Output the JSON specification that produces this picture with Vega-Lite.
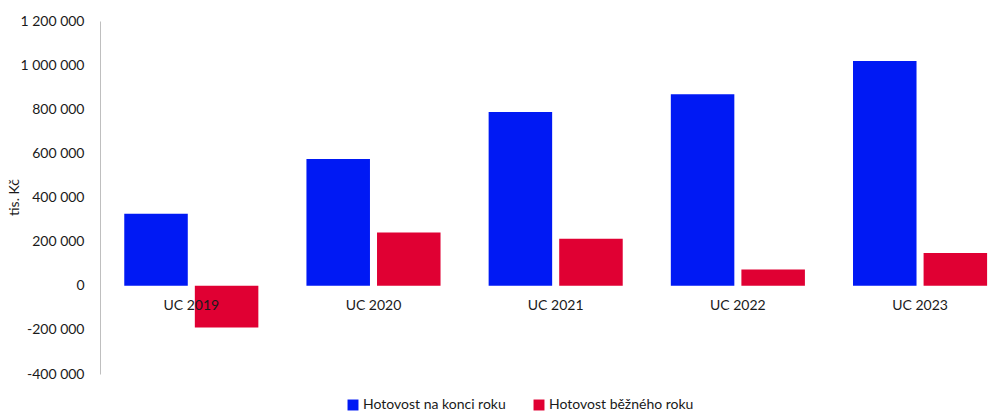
{
  "$schema": "https://vega.github.io/schema/vega-lite/v6.json",
  "width": 898,
  "height": 353,
  "autosize": {"type": "none"},
  "padding": {"left": 100, "top": 21, "right": 0, "bottom": 38},
  "config": {
    "locale": {"number": {"decimal": ",", "thousands": " ", "grouping": [3], "currency": ["", " Kč"], "minus": "-"}},
    "view": {"stroke": null},
    "font": "Lato"
  },
  "data": {
    "values": [
      {"cat": "UC 2019", "series": "Hotovost na konci roku", "value": 326000},
      {"cat": "UC 2019", "series": "Hotovost běžného roku", "value": -189000},
      {"cat": "UC 2020", "series": "Hotovost na konci roku", "value": 575000},
      {"cat": "UC 2020", "series": "Hotovost běžného roku", "value": 241000},
      {"cat": "UC 2021", "series": "Hotovost na konci roku", "value": 788000},
      {"cat": "UC 2021", "series": "Hotovost běžného roku", "value": 213000},
      {"cat": "UC 2022", "series": "Hotovost na konci roku", "value": 868000},
      {"cat": "UC 2022", "series": "Hotovost běžného roku", "value": 74000},
      {"cat": "UC 2023", "series": "Hotovost na konci roku", "value": 1019000},
      {"cat": "UC 2023", "series": "Hotovost běžného roku", "value": 149000}
    ]
  },
  "encoding": {
    "x": {
      "field": "cat",
      "type": "nominal",
      "sort": null,
      "scale": {"paddingInner": 0.264, "paddingOuter": 0.0965, "align": 0.69},
      "axis": null
    }
  },
  "layer": [
    {
      "mark": {"type": "bar"},
      "encoding": {
        "xOffset": {
          "field": "series",
          "type": "nominal",
          "scale": {"domain": ["Hotovost na konci roku", "Hotovost běžného roku"], "paddingInner": 0.1}
        },
        "y": {
          "field": "value",
          "type": "quantitative",
          "scale": {"domain": [-400000, 1200000], "nice": false, "zero": false},
          "axis": {
            "title": "tis. Kč",
            "ticks": false,
            "grid": false,
            "domainColor": "#bfbfbf",
            "labelPadding": 16,
            "labelFontSize": 14,
            "labelColor": "#1a1a1a",
            "values": [-400000, -200000, 0, 200000, 400000, 600000, 800000, 1000000, 1200000],
            "format": ",d",
            "titleFontSize": 14,
            "titleFontWeight": "normal",
            "titleColor": "#1a1a1a",
            "titleX": -79,
            "titleY": 176,
            "titleAngle": -90
          }
        },
        "color": {
          "field": "series",
          "type": "nominal",
          "scale": {"domain": ["Hotovost na konci roku", "Hotovost běžného roku"], "range": ["#0019F4", "#E00033"]},
          "legend": {
            "orient": "none",
            "legendX": 246,
            "legendY": 377,
            "direction": "horizontal",
            "title": null,
            "symbolType": "square",
            "symbolSize": 120,
            "labelFontSize": 14,
            "labelColor": "#1a1a1a",
            "columnPadding": 26,
            "labelOffset": 3
          }
        }
      }
    },
    {
      "mark": {"type": "rule", "color": "#898989", "strokeWidth": 1},
      "encoding": {"y": {"datum": 0}}
    },
    {
      "transform": [{"filter": "datum.series === 'Hotovost na konci roku'"}],
      "mark": {"type": "text", "dy": 20, "fontSize": 14, "color": "#1a1a1a", "baseline": "middle"},
      "encoding": {"y": {"datum": 0}, "text": {"field": "cat"}}
    }
  ]
}
